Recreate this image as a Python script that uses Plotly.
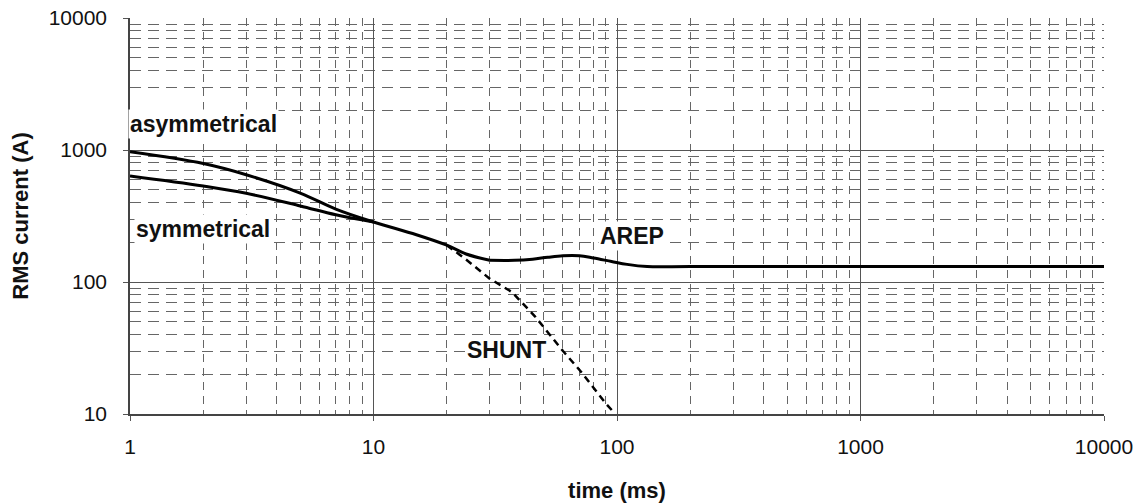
import math
import plotly.graph_objects as go

# time (ms) / RMS current (A)
asym_t = [1, 2, 3, 5, 7, 10, 15, 20, 24, 30]
asym_i = [970, 790, 650, 472, 357, 285, 228, 190, 163, 146]
sym_t = [1, 2, 3, 5, 7, 10]
sym_i = [635, 533, 470, 377, 323, 285]
arep_t = [30, 38, 45, 52, 60, 70, 80, 95, 110, 133, 200, 1000, 10000]
arep_i = [146, 146, 149, 154, 158, 158, 152, 143, 136, 131, 131, 131, 131]
shunt_t = [20, 24, 30, 37, 46, 60, 71, 90, 97]
shunt_i = [190, 148, 106, 84, 55, 30, 21, 12, 10.3]

x_ticks = [1, 10, 100, 1000, 10000]
y_ticks = [10, 100, 1000, 10000]

# annotation labels: (text, time, current)
labels = [("asymmetrical", 2.0, 1574), ("symmetrical", 1.99, 251),
          ("AREP", 115, 223), ("SHUNT", 35.3, 30.5)]

FAM = "Liberation Sans, Arial, sans-serif"
line = dict(color="black", width=3)
fig = go.Figure()
fig.add_trace(go.Scatter(x=asym_t, y=asym_i, mode="lines", line=line, line_shape="spline"))
fig.add_trace(go.Scatter(x=sym_t, y=sym_i, mode="lines", line=line, line_shape="spline"))
fig.add_trace(go.Scatter(x=arep_t, y=arep_i, mode="lines", line=line, line_shape="spline"))
fig.add_trace(go.Scatter(x=shunt_t, y=shunt_i, mode="lines",
                         line=dict(color="black", width=2.5, dash="7px,5px")))

for txt, x, y in labels:
    fig.add_annotation(x=math.log10(x), y=math.log10(y), text=f"<b>{txt}</b>",
                       showarrow=False, bgcolor="white",
                       font=dict(family=FAM, size=23, color="#111"))

axis_common = dict(
    type="log", showline=True, linecolor="#444", linewidth=1.5, mirror=False,
    gridcolor="#555", gridwidth=1, ticks="outside", ticklen=5, tickcolor="#555",
    tickfont=dict(family=FAM, size=21, color="#111"),
    zeroline=False, automargin=False,
)
fig.update_xaxes(**axis_common, range=[0, 4], tickvals=x_ticks,
                 ticktext=[str(v) for v in x_ticks], ticklabelstandoff=8,
                 minor=dict(showgrid=True, gridcolor="#666", griddash="8px,6px", gridwidth=1, dtick="D1"),
                 title=dict(text="<b>time (ms)</b>", font=dict(family=FAM, size=22, color="#111"), standoff=26))
fig.update_yaxes(**axis_common, range=[1, 4], tickvals=y_ticks,
                 ticktext=[str(v) for v in y_ticks], ticklabelstandoff=12,
                 minor=dict(showgrid=True, gridcolor="#666", griddash="11px,7px", gridwidth=1, dtick="D1"),
                 title=dict(text="<b>RMS current (A)</b>", font=dict(family=FAM, size=22, color="#111"), standoff=14))
fig.update_layout(
    width=1142, height=504, showlegend=False,
    margin=dict(l=130, r=38, t=18, b=90),
    plot_bgcolor="white", paper_bgcolor="white",
)
fig.write_html("out.html")
